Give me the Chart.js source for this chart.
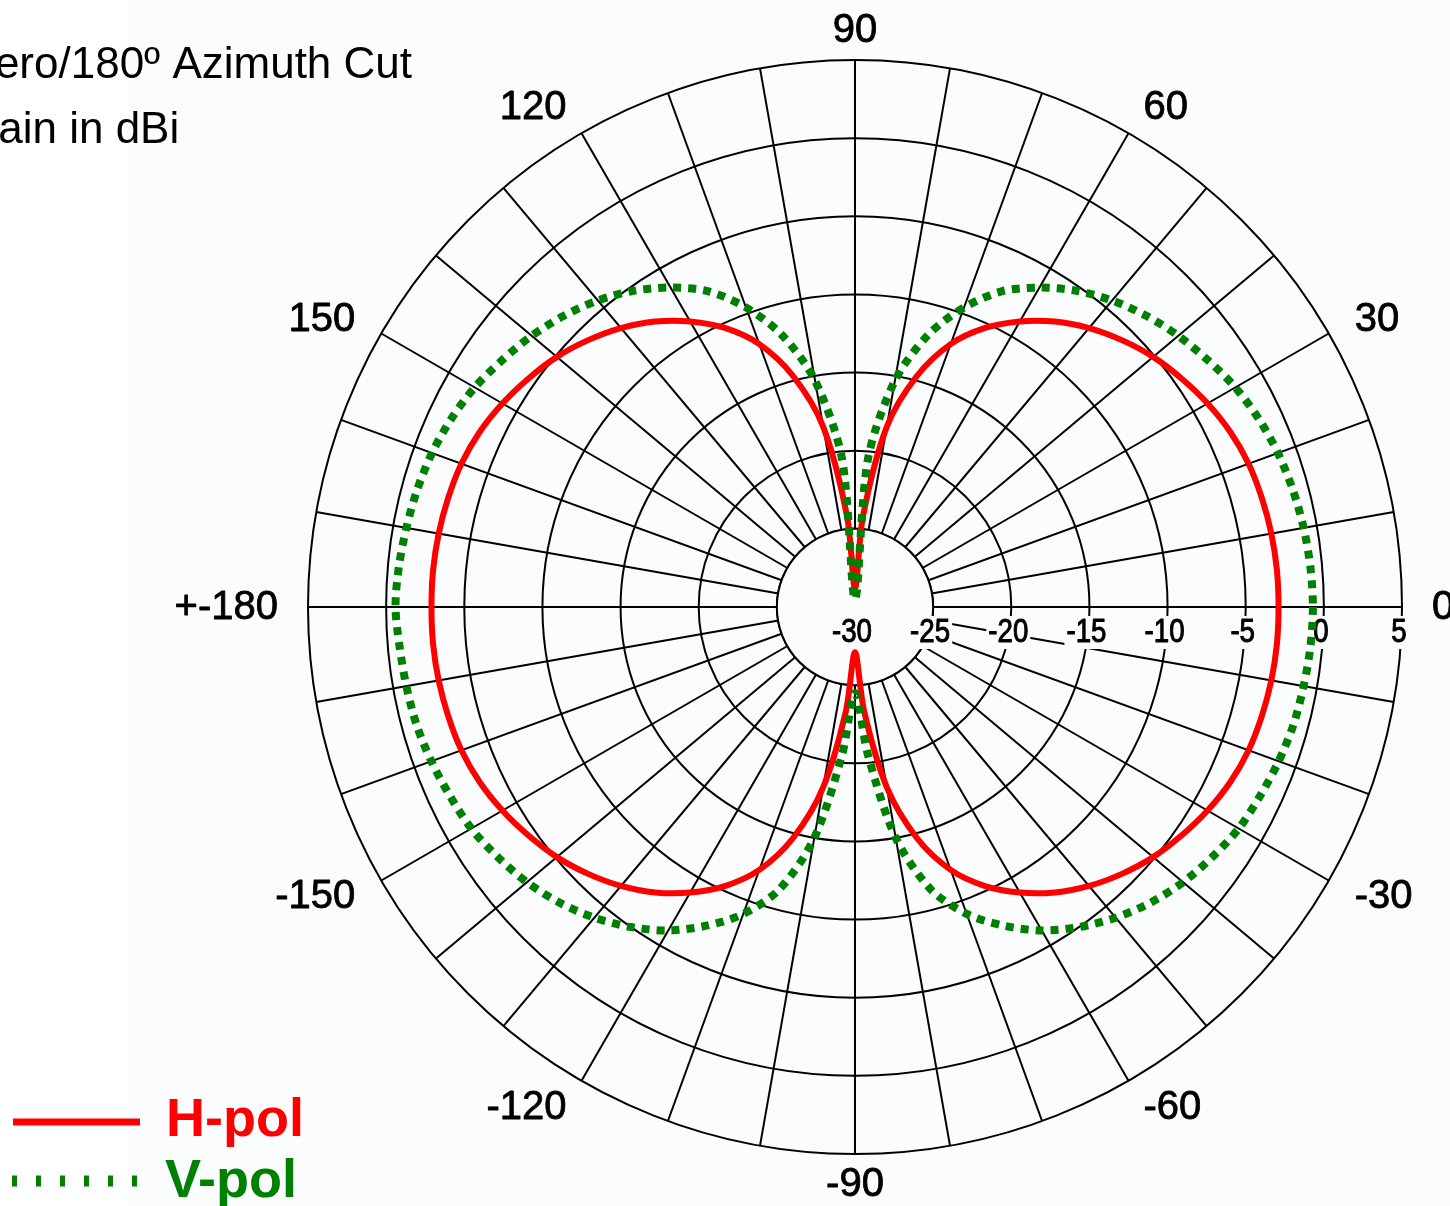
<!DOCTYPE html>
<html lang="en">
<head>
  <meta charset="UTF-8">
  <title>Zero/180º Azimuth Cut</title>
  <script src="https://cdn.jsdelivr.net/npm/chart.js"></script>
  <style>
    html, body {
      margin: 0;
      padding: 0;
      background: #fff;
    }
    canvas {
      display: block;
    }
  </style>
</head>
<body>
  <canvas id="patternChart" width="1450" height="1206"></canvas>

<script>
    // angles in the order Chart.js walks round the radar (clockwise from 0)
    const angles = [
      0, -5, -10, -15, -20, -25, -30, -35, -40, -45,
      -50, -55, -60, -65, -70, -75, -80, -85, -90, -95,
      -100, -105, -110, -115, -120, -125, -130, -135, -140, -145,
      -150, -155, -160, -165, -170, -175, 180, 175, 170, 165,
      160, 155, 150, 145, 140, 135, 130, 125, 120, 115,
      110, 105, 100, 95, 90, 85, 80, 75, 70, 65,
      60, 55, 50, 45, 40, 35, 30, 25, 20, 15,
      10, 5
    ];

    // H-pol gain (dBi)
    const hpol = [
      -2.9, -2.9, -2.95, -3.05, -3.2, -3.5, -3.95, -4.5, -5.1, -5.85,
      -6.7, -7.7, -8.9, -10.3, -12.1, -14.7, -18.3, -23.3, -27.1, -23.3,
      -18.3, -14.7, -12.1, -10.3, -8.9, -7.7, -6.7, -5.85, -5.1, -4.5,
      -3.95, -3.5, -3.2, -3.05, -2.95, -2.9, -2.9, -2.9, -2.95, -3.05,
      -3.2, -3.5, -3.95, -4.5, -5.1, -5.85, -6.7, -7.7, -8.9, -10.3,
      -12.1, -14.7, -18.3, -24.2, -28.8, -24.2, -18.3, -14.7, -12.1, -10.3,
      -8.9, -7.7, -6.7, -5.85, -5.1, -4.5, -3.95, -3.5, -3.2, -3.05,
      -2.95, -2.9
    ];

    // V-pol gain (dBi)
    const vpol = [
      -0.7, -0.75, -0.85, -0.95, -1.15, -1.4, -1.65, -2.1, -2.6, -3.25,
      -4.05, -5.0, -6.1, -7.5, -9.1, -11.3, -15.0, -20.5, -24.5, -20.5,
      -15.0, -11.3, -9.1, -7.5, -6.1, -5.0, -4.05, -3.25, -2.6, -2.1,
      -1.65, -1.4, -1.15, -0.95, -0.85, -0.75, -0.6, -0.7, -0.85, -1.0,
      -1.2, -1.5, -1.9, -2.45, -3.0, -3.65, -4.4, -5.3, -6.4, -7.7,
      -9.6, -12.0, -15.3, -20.5, -29.5, -20.5, -15.3, -12.0, -9.6, -7.7,
      -6.4, -5.3, -4.4, -3.65, -3.0, -2.45, -1.9, -1.5, -1.2, -1.0,
      -0.85, -0.75
    ];

    const gainTicks = [-30, -25, -20, -15, -10, -5, 0, 5];
    const labelAngles = [0, 30, 60, 90, 120, 150, 180, -150, -120, -90, -60, -30];
    const labelTexts = ['0', '30', '60', '90', '120', '150', '+-180', '-150', '-120', '-90', '-60', '-30'];

    const BG = '#fbfcfe';
    const FONT = '"Liberation Sans", Arial, Helvetica, sans-serif';

    // fill + light stroke so the text looks as heavy as the source
    function heavyText(ctx, txt, x, y, weight) {
      ctx.lineWidth = weight;
      ctx.strokeStyle = ctx.fillStyle;
      ctx.lineJoin = 'round';
      ctx.strokeText(txt, x, y);
      ctx.fillText(txt, x, y);
    }

    const decorations = {
      id: 'decorations',
      beforeDraw(chart) {
        const ctx = chart.ctx;
        ctx.save();
        ctx.fillStyle = '#fff';
        ctx.fillRect(0, 0, chart.width, chart.height);
        ctx.fillStyle = BG;
        ctx.fillRect(128, 0, chart.width - 128, chart.height);
        ctx.restore();
      },
      beforeDatasetsDraw(chart) {
        const ctx = chart.ctx;
        const s = chart.scales.r;
        // blank hole inside the -25 ring
        const hole = s.getDistanceFromCenterForValue(-25);
        ctx.save();
        ctx.beginPath();
        ctx.arc(s.xCenter, s.yCenter, hole, 0, Math.PI * 2);
        ctx.fillStyle = BG;
        ctx.fill();
        ctx.lineWidth = 2;
        ctx.strokeStyle = '#000';
        ctx.stroke();

        // gain labels along the 0 degree axis
        ctx.font = '33px ' + FONT;
        ctx.textAlign = 'center';
        ctx.textBaseline = 'alphabetic';
        gainTicks.forEach(v => {
          const txt = String(v);
          const x = s.xCenter + s.getDistanceFromCenterForValue(v) - 3;
          const w = ctx.measureText(txt).width * 0.84;
          ctx.fillStyle = BG;
          ctx.fillRect(x - w / 2 - 2, s.yCenter + 9, w + 4, 33);
          ctx.save();
          ctx.translate(x, s.yCenter + 35);
          ctx.scale(0.84, 1);
          ctx.fillStyle = '#000';
          heavyText(ctx, txt, 0, 0, 1);
          ctx.restore();
        });
        ctx.restore();
      },
      afterDraw(chart) {
        const ctx = chart.ctx;
        const s = chart.scales.r;
        ctx.save();

        // angle labels round the outside
        ctx.font = '40px ' + FONT;
        ctx.fillStyle = '#000';
        ctx.textBaseline = 'middle';
        labelAngles.forEach((a, k) => {
          const txt = labelTexts[k];
          const c = Math.cos(a * Math.PI / 180);
          const p = s.getPointPosition(angles.indexOf(a), s.drawingArea + 30);
          ctx.textAlign = c > 0.01 ? 'left' : (c < -0.01 ? 'right' : 'center');
          heavyText(ctx, txt, p.x, p.y + 1, 0.8);
        });

        // title, partly off the left edge as in the source
        ctx.font = '44px ' + FONT;
        ctx.textAlign = 'left';
        ctx.textBaseline = 'alphabetic';
        ctx.fillText('Zero/180º Azimuth Cut', -32, 78);
        ctx.fillText('Gain in dBi', -36, 143);

        // legend
        ctx.strokeStyle = '#ff0000';
        ctx.lineWidth = 7;
        ctx.beginPath();
        ctx.moveTo(13, 1122);
        ctx.lineTo(140, 1122);
        ctx.stroke();

        ctx.strokeStyle = '#008000';
        ctx.lineWidth = 11;
        ctx.setLineDash([5, 19]);
        ctx.beginPath();
        ctx.moveTo(12, 1181);
        ctx.lineTo(140, 1181);
        ctx.stroke();
        ctx.setLineDash([]);

        ctx.font = 'bold 54px ' + FONT;
        ctx.fillStyle = '#ff0000';
        ctx.fillText('H-pol', 166, 1136);
        ctx.fillStyle = '#008000';
        ctx.fillText('V-pol', 165, 1197);
        ctx.restore();
      }
    };

    new Chart(document.getElementById('patternChart').getContext('2d'), {
      type: 'radar',
      data: {
        labels: angles.map(String),
        datasets: [
          {
            label: 'V-pol',
            data: vpol,
            borderColor: '#008000',
            borderWidth: 8,
            borderDash: [8, 7],
            borderCapStyle: 'butt',
            fill: false,
            pointRadius: 0,
            tension: 0.3
          },
          {
            label: 'H-pol',
            data: hpol,
            borderColor: '#ff0000',
            borderWidth: 6,
            borderJoinStyle: 'round',
            fill: false,
            pointRadius: 0,
            tension: 0.3
          }
        ]
      },
      options: {
        responsive: false,
        devicePixelRatio: 1,
        animation: false,
        layout: { padding: { left: 308, right: 48, top: 60, bottom: 52 } },
        plugins: {
          legend: { display: false },
          tooltip: { enabled: false }
        },
        scales: {
          r: {
            min: -30,
            max: 5,
            startAngle: 90,
            ticks: { display: false, stepSize: 5 },
            pointLabels: { display: false },
            grid: { circular: true, color: '#000', lineWidth: 2 },
            angleLines: {
              color: '#000',
              lineWidth: ctx => (ctx.index % 2 === 0 ? 2 : 0)
            }
          }
        }
      },
      plugins: [decorations]
    });
  </script>
</body>
</html>
